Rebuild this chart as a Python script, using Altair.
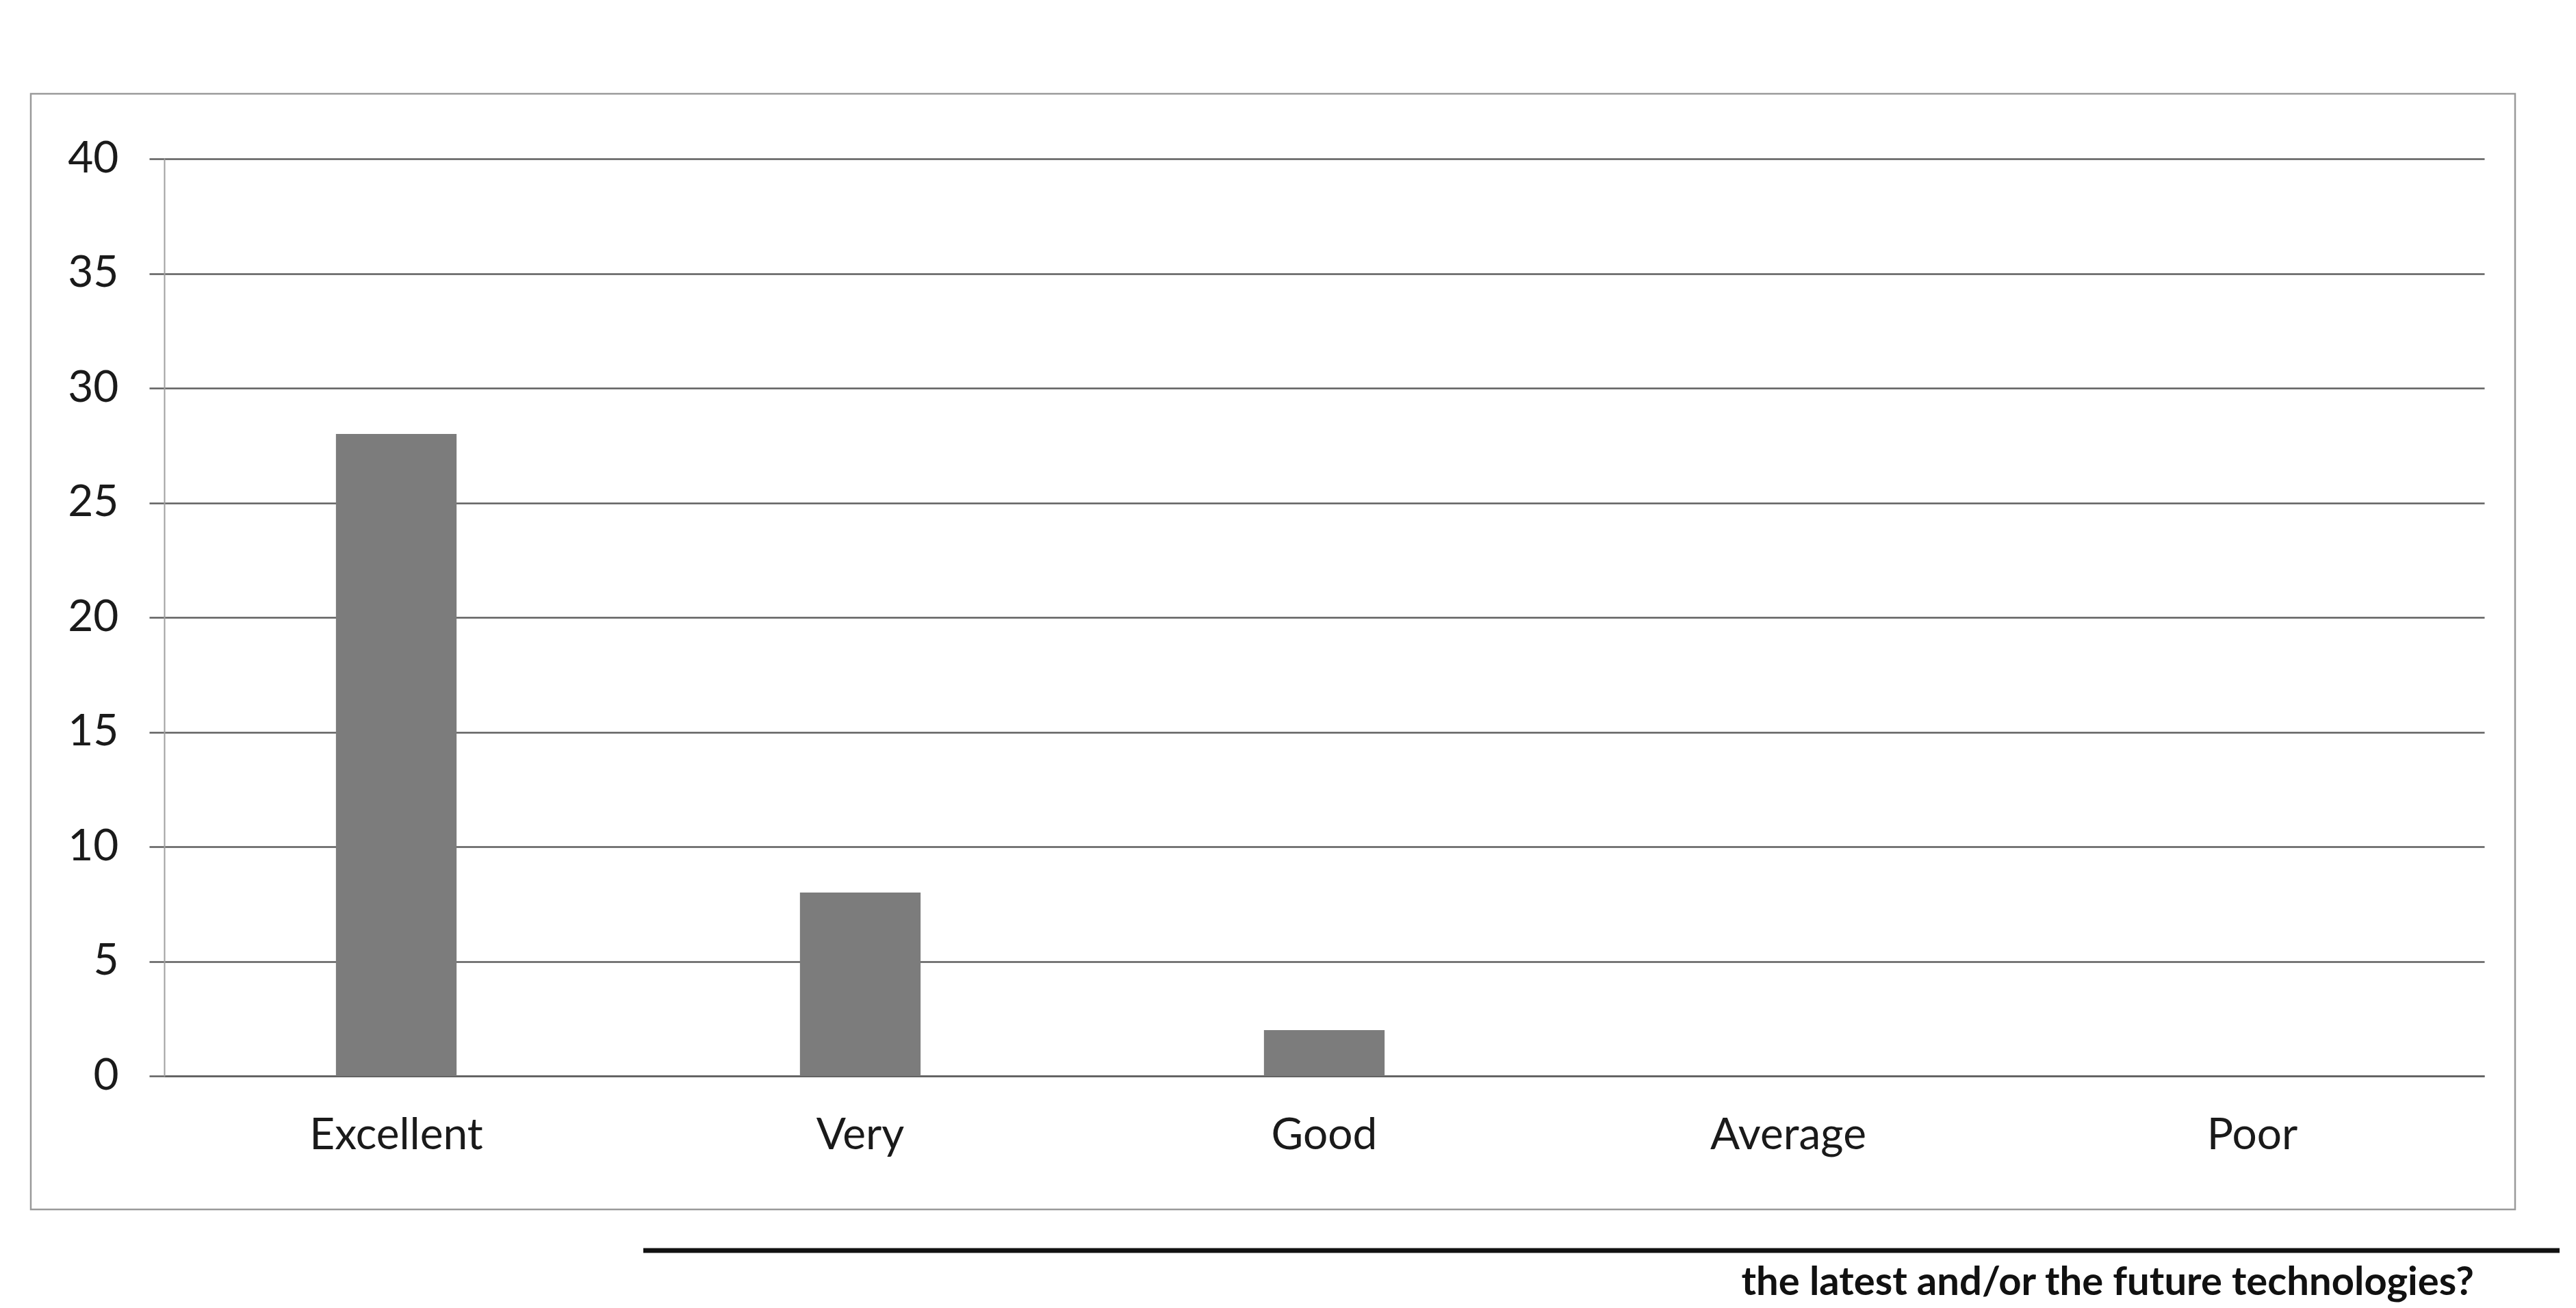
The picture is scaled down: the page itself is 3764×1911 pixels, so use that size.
import altair as alt
import pandas as pd

categories = ["Excellent", "Very", "Good", "Average", "Poor"]
counts = [28, 8, 2, 0, 0]
y_ticks = [0, 5, 10, 15, 20, 25, 30, 35, 40]
question = ["the latest and/or the future technologies?"]

W, H = 3390, 1340

df = pd.DataFrame({"category": categories, "count": counts})
one = pd.DataFrame({"q": question})

bars = alt.Chart(df).mark_bar(color="#7c7c7c").encode(
    x=alt.X(
        "category:N",
        sort=categories,
        title=None,
        scale=alt.Scale(paddingInner=0.74, paddingOuter=0.37),
        axis=alt.Axis(
            labelAngle=0,
            labelFont="Lato",
            labelFontSize=64,
            labelColor="#1a1a1a",
            labelPadding=55,
            labelLimit=0,
            ticks=False,
            domain=True,
            domainColor="#5f5f5f",
            domainWidth=2.5,
            grid=False,
        ),
    ),
    y=alt.Y(
        "count:Q",
        title=None,
        scale=alt.Scale(domain=[0, 40]),
        axis=alt.Axis(
            values=y_ticks,
            labelFont="Lato",
            labelFontSize=64,
            labelColor="#1a1a1a",
            labelPadding=45,
            labelLimit=0,
            grid=True,
            gridColor="#5f5f5f",
            gridWidth=2.5,
            tickSize=22,
            tickColor="#5f5f5f",
            tickWidth=2.5,
            domainColor="#a0a0a0",
            domainWidth=2,
        ),
    ),
)

frame = alt.Chart(one).mark_rect(filled=False, stroke="#9a9a9a", strokeWidth=2.5).encode(
    x=alt.value(-195), x2=alt.value(W + 45), y=alt.value(-95), y2=alt.value(H + 195)
)

black_rule = alt.Chart(one).mark_rule(color="#111111", strokeWidth=7).encode(
    x=alt.value(700), x2=alt.value(W + 110), y=alt.value(H + 255)
)

qtext = alt.Chart(one).mark_text(
    align="right", baseline="alphabetic", font="Lato", fontWeight="bold",
    fontSize=58, color="#111111"
).encode(x=alt.value(W - 15), y=alt.value(H + 320), text="q:N")

chart = alt.layer(frame, bars, black_rule, qtext).properties(
    width=W, height=H,
    padding={"left": 35, "top": 127, "right": 0, "bottom": 0},
    background="white",
).configure_view(strokeWidth=0)

chart.save("out.html", embed_options={"renderer": "svg", "actions": False})
